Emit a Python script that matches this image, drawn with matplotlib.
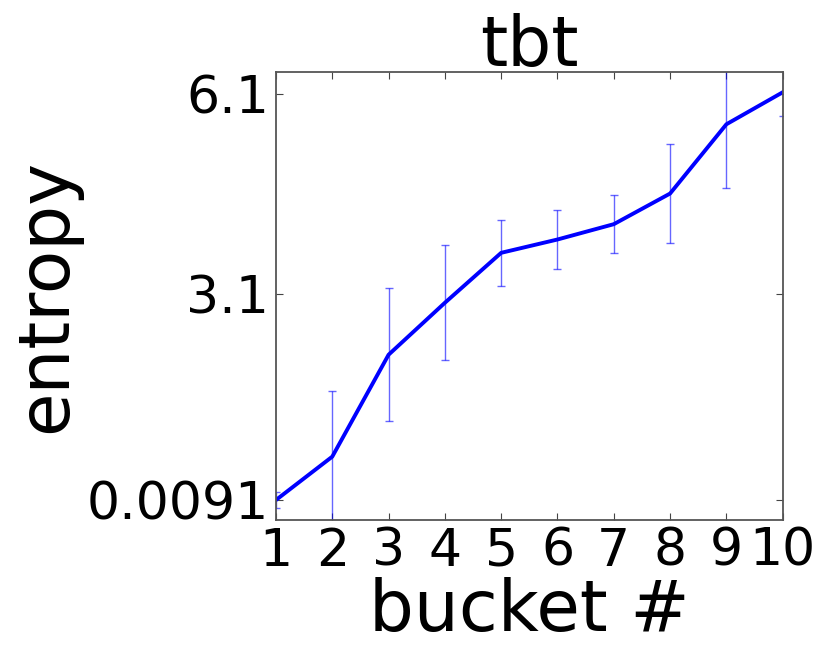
import matplotlib
matplotlib.use('Agg')
import matplotlib.pyplot as plt

# entropia media por bucket
buckets = [1, 2, 3, 4, 5, 6, 7, 8, 9, 10]
entropia = [0.0091, 0.66, 2.19, 2.97, 3.72, 3.92, 4.15, 4.61, 5.65, 6.13]
erro = [0.12, 0.98, 1.0, 0.86, 0.50, 0.44, 0.435, 0.745, 0.96, 0.36]

y_ticks = [0.0091, 3.1, 6.1]
y_tick_labels = ['0.0091', '3.1', '6.1']

fig = plt.figure(figsize=(8.3, 6.64), dpi=100)
ax = fig.add_axes([0.3325, 0.2169, 0.6105, 0.6747])

ax.errorbar(buckets, entropia, yerr=erro, fmt='none', ecolor='blue',
            elinewidth=1, alpha=0.6, capsize=3)
ax.plot(buckets, entropia, color='blue', linewidth=2.8)

ax.set_xlim(1, 10)
ax.set_ylim(-0.291, 6.435)
ax.set_xticks(buckets)
ax.set_yticks(y_ticks)
ax.set_yticklabels(y_tick_labels)
ax.tick_params(direction='in', top=True, right=True, length=5,
               color='#444444', labelsize=37.5, pad=5)
for s in ax.spines.values():
    s.set_color('#555555')
    s.set_linewidth(1.3)

ax.set_title('tbt', fontsize=50, pad=4)
ax.set_xlabel('bucket #', fontsize=51, labelpad=0)
ax.set_ylabel('entropy', fontsize=51, labelpad=4)

fig.savefig('out.png', dpi=100)
